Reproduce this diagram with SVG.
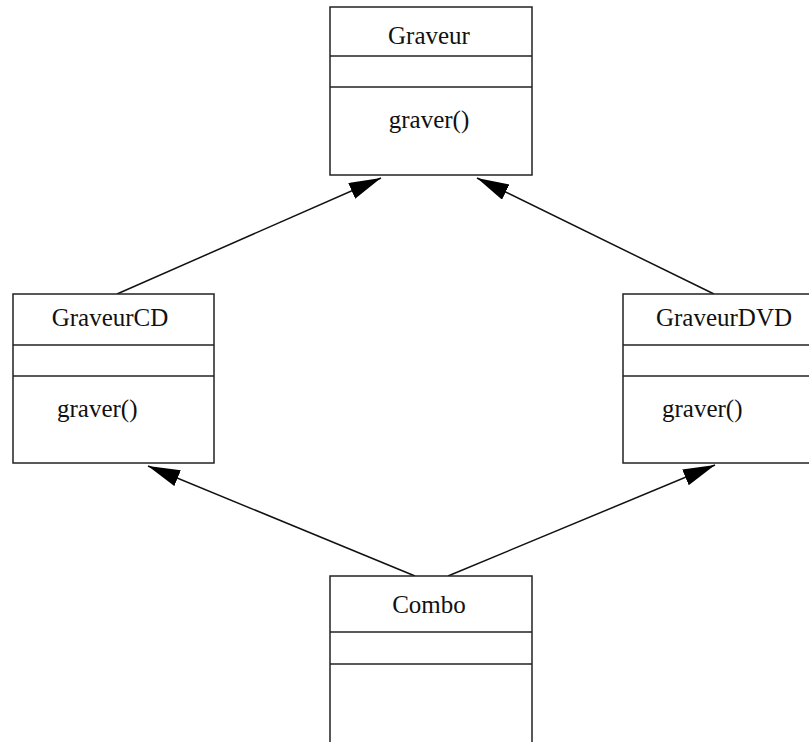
<svg xmlns="http://www.w3.org/2000/svg" width="809" height="742" viewBox="0 0 809 742">
<style>
.box{fill:#fff;stroke:#222;stroke-width:1.5}
.t{font-family:"Liberation Serif","Times New Roman",serif;font-size:25px;fill:#111}
.c{text-anchor:middle}
.edge{stroke:#111;stroke-width:1.5;fill:none}
</style>
<defs>
<marker id="ah" markerUnits="userSpaceOnUse" markerWidth="34" markerHeight="18" refX="32" refY="8.5" orient="auto">
<path d="M0,0 L32,8.5 L0,17 z" fill="#000"/>
</marker>
</defs>
<rect width="809" height="742" fill="#fff"/>
<g id="connectors">
<line class="edge" x1="117" y1="294" x2="381" y2="178" marker-end="url(#ah)"/>
<line class="edge" x1="714" y1="294" x2="477" y2="178" marker-end="url(#ah)"/>
<line class="edge" x1="415" y1="576" x2="148" y2="466" marker-end="url(#ah)"/>
<line class="edge" x1="448" y1="576" x2="715" y2="465" marker-end="url(#ah)"/>
</g>
<g id="Graveur">
<rect class="box" x="330" y="7" width="202" height="168"/>
<line class="box" x1="330" y1="56" x2="532" y2="56"/>
<line class="box" x1="330" y1="87" x2="532" y2="87"/>
<text class="t c" x="429" y="44">Graveur</text>
<text class="t c" x="429" y="128">graver()</text>
</g>
<g id="GraveurCD">
<rect class="box" x="13" y="294" width="201" height="169"/>
<line class="box" x1="13" y1="345" x2="214" y2="345"/>
<line class="box" x1="13" y1="376" x2="214" y2="376"/>
<text class="t c" x="110" y="326">GraveurCD</text>
<text class="t" x="57" y="417">graver()</text>
</g>
<g id="GraveurDVD">
<rect class="box" x="623" y="294" width="202" height="169"/>
<line class="box" x1="623" y1="345" x2="825" y2="345"/>
<line class="box" x1="623" y1="376" x2="825" y2="376"/>
<text class="t c" x="724" y="326">GraveurDVD</text>
<text class="t" x="662" y="417">graver()</text>
</g>
<g id="Combo">
<rect class="box" x="330" y="576" width="202" height="200"/>
<line class="box" x1="330" y1="632" x2="532" y2="632"/>
<line class="box" x1="330" y1="664" x2="532" y2="664"/>
<text class="t c" x="429" y="613">Combo</text>
</g>
</svg>
